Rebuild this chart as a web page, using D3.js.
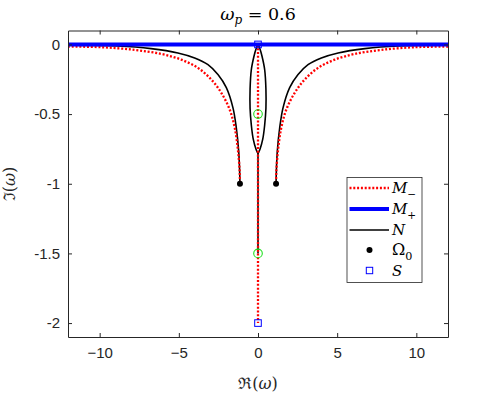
<!DOCTYPE html>
<html><head><meta charset="utf-8">
<script src="https://cdn.jsdelivr.net/npm/d3@7"></script>
<style>body{margin:0;background:#fff}</style>
</head><body>
<svg id="chart" width="495" height="395"></svg>
<script>
// ---- data ----
const xTicks = [-10, -5, 0, 5, 10];
const yTicks = [0, -0.5, -1, -1.5, -2];
const yTickLabels = ["0", "-0.5", "-1", "-1.5", "-2"];

// M_- (red dotted): left and right side branches + central vertical segment
const mMinusLeftX  = [-12, -9.9, -7.8, -6.12, -4.85, -3.8, -2.95, -2.32, -1.79, -1.47, -1.26, -1.16, -1.14];
const mMinusLeftY  = [-0.015, -0.02, -0.039, -0.068, -0.109, -0.168, -0.252, -0.347, -0.467, -0.598, -0.765, -0.908, -1.0];
const mMinusRightX = [12, 9.9, 7.8, 6.12, 4.85, 3.8, 2.95, 2.32, 1.79, 1.47, 1.26, 1.16, 1.14];
const mMinusRightY = [-0.015, -0.02, -0.039, -0.068, -0.109, -0.168, -0.252, -0.347, -0.467, -0.598, -0.765, -0.908, -1.0];
const mMinusCenterX = [0, 0];
const mMinusCenterY = [0, -2];

// M_+ (blue thick)
const mPlusX = [-12, 12];
const mPlusY = [0, 0];

// N (black): side branches, central loop, vertical segment
const nLeftX  = [-12, -8.86, -6.75, -5.06, -4.0, -3.16, -2.53, -2.0, -1.58, -1.37, -1.22, -1.16, -1.14];
const nLeftY  = [-0.006, -0.011, -0.03, -0.061, -0.097, -0.145, -0.216, -0.31, -0.455, -0.598, -0.765, -0.908, -1.0];
const nRightX = [12, 8.86, 6.75, 5.06, 4.0, 3.16, 2.53, 2.0, 1.58, 1.37, 1.22, 1.16, 1.14];
const nRightY = [-0.006, -0.011, -0.03, -0.061, -0.097, -0.145, -0.216, -0.31, -0.455, -0.598, -0.765, -0.908, -1.0];
const nLoopX = [0, 0.13, 0.25, 0.42, 0.5, 0.5, 0.42, 0.3, 0.13, 0, -0.13, -0.3, -0.42, -0.5, -0.5, -0.42, -0.25, -0.13, 0];
const nLoopY = [0, -0.035, -0.083, -0.18, -0.32, -0.46, -0.58, -0.68, -0.75, -0.78, -0.75, -0.68, -0.58, -0.46, -0.32, -0.18, -0.083, -0.035, 0];
const nStemX = [0, 0];
const nStemY = [-0.78, -1.5];

// markers
const omega0X = [-1.14, 1.14];
const omega0Y = [-1, -1];
const sX = [0, 0];
const sY = [0, -2];
const greenX = [0, 0];
const greenY = [-0.5, -1.5];

// ---- layout ----
const svg = d3.select("#chart");
const L = 68, R = 448, T = 30.5, B = 337;
const x = d3.scaleLinear().domain([-12, 12]).range([L, R]);
const y = d3.scaleLinear().domain([-2.1, 0.1]).range([B, T]);
const axisColor = "#262626";
const tickFont = "'Liberation Sans', Arial, sans-serif";
const mathFont = "'DejaVu Serif', 'Liberation Serif', serif";

svg.append("rect").attr("width", 495).attr("height", 395).attr("fill", "#fff");

svg.append("defs").append("clipPath").attr("id", "clip")
  .append("rect").attr("x", L).attr("y", T).attr("width", R - L).attr("height", B - T);

const plot = svg.append("g").attr("clip-path", "url(#clip)");
const pts = (xs, ys) => xs.map((v, i) => [v, ys[i]]);
const line = d3.line().x(d => x(d[0])).y(d => y(d[1])).curve(d3.curveCatmullRom.alpha(0.5));
const lineStraight = d3.line().x(d => x(d[0])).y(d => y(d[1]));

// N (black)
[[nLeftX, nLeftY], [nRightX, nRightY], [nLoopX, nLoopY]].forEach(([xs, ys]) => {
  plot.append("path").attr("d", line(pts(xs, ys))).attr("fill", "none")
    .attr("stroke", "#000").attr("stroke-width", 1.6);
});
plot.append("path").attr("d", lineStraight(pts(nStemX, nStemY))).attr("fill", "none")
  .attr("stroke", "#000").attr("stroke-width", 1.6);

// M_- (red dotted)
[[mMinusLeftX, mMinusLeftY], [mMinusRightX, mMinusRightY]].forEach(([xs, ys]) => {
  plot.append("path").attr("d", line(pts(xs, ys))).attr("fill", "none")
    .attr("stroke", "#ff0000").attr("stroke-width", 2.3).attr("stroke-dasharray", "2,1.8");
});
plot.append("path").attr("d", lineStraight(pts(mMinusCenterX, mMinusCenterY))).attr("fill", "none")
  .attr("stroke", "#ff0000").attr("stroke-width", 2.3).attr("stroke-dasharray", "2,1.8");

// M_+ (blue thick)
plot.append("path").attr("d", lineStraight(pts(mPlusX, mPlusY))).attr("fill", "none")
  .attr("stroke", "#0000ff").attr("stroke-width", 4);

// markers
svg.selectAll(".om").data(pts(omega0X, omega0Y)).join("circle")
  .attr("cx", d => x(d[0])).attr("cy", d => y(d[1])).attr("r", 3).attr("fill", "#000");
svg.selectAll(".gr").data(pts(greenX, greenY)).join("circle")
  .attr("cx", d => x(d[0])).attr("cy", d => y(d[1])).attr("r", 4.3)
  .attr("fill", "none").attr("stroke", "#1ee01e").attr("stroke-width", 1.1);
svg.selectAll(".sq").data(pts(sX, sY)).join("rect")
  .attr("x", d => x(d[0]) - 3.3).attr("y", d => y(d[1]) - 3.3).attr("width", 6.6).attr("height", 6.6)
  .attr("fill", "none").attr("stroke", "#0000ff").attr("stroke-width", 1);

// ---- axes ----
const gx = svg.append("g").attr("transform", `translate(0,${B})`)
  .call(d3.axisBottom(x).tickValues(xTicks).tickSizeInner(-4).tickSizeOuter(0).tickPadding(10));
const gy = svg.append("g").attr("transform", `translate(${L},0)`)
  .call(d3.axisLeft(y).tickValues(yTicks).tickFormat((d, i) => yTickLabels[i]).tickSizeInner(-4).tickSizeOuter(0).tickPadding(8));
const gxt = svg.append("g").attr("transform", `translate(0,${T})`)
  .call(d3.axisTop(x).tickValues(xTicks).tickSizeInner(-4).tickSizeOuter(0).tickFormat(""));
const gyr = svg.append("g").attr("transform", `translate(${R},0)`)
  .call(d3.axisRight(y).tickValues(yTicks).tickSizeInner(-4).tickSizeOuter(0).tickFormat(""));
[gx, gy, gxt, gyr].forEach(g => {
  g.selectAll("path,line").attr("stroke", axisColor).attr("stroke-width", 1);
  g.selectAll("text").attr("fill", axisColor).attr("font-family", tickFont).attr("font-size", 15);
});

// ---- legend ----
const lg = svg.append("g");
lg.append("rect").attr("x", 347).attr("y", 177.5).attr("width", 75).attr("height", 105)
  .attr("fill", "#fff").attr("stroke", axisColor).attr("stroke-width", 0.8);
const rows = [188, 209, 230, 250, 270.5];
lg.append("line").attr("x1", 349.5).attr("x2", 389).attr("y1", rows[0]).attr("y2", rows[0])
  .attr("stroke", "#ff0000").attr("stroke-width", 2.3).attr("stroke-dasharray", "2,1.8");
lg.append("line").attr("x1", 349.5).attr("x2", 389).attr("y1", rows[1]).attr("y2", rows[1])
  .attr("stroke", "#0000ff").attr("stroke-width", 4);
lg.append("line").attr("x1", 349.5).attr("x2", 389).attr("y1", rows[2]).attr("y2", rows[2])
  .attr("stroke", "#000").attr("stroke-width", 1.3);
lg.append("circle").attr("cx", 369.5).attr("cy", rows[3]).attr("r", 3).attr("fill", "#000");
lg.append("rect").attr("x", 366.3).attr("y", rows[4] - 3.2).attr("width", 6.4).attr("height", 6.4)
  .attr("fill", "none").attr("stroke", "#0000ff").attr("stroke-width", 1);

function mathLabel(g, xx, yy, main, sub, italicMain, size) {
  const t = g.append("text").attr("x", xx).attr("y", yy).attr("font-family", mathFont)
    .attr("font-size", size).attr("fill", "#000");
  t.append("tspan").text(main).attr("font-style", italicMain ? "italic" : "normal");
  if (sub) t.append("tspan").text(sub).attr("font-size", size * 0.7).attr("dy", size * 0.3)
    .attr("font-style", sub === "0" ? "normal" : "italic");
  return t;
}
mathLabel(lg, 392, rows[0] + 5, "M", "\u2212", true, 15);
mathLabel(lg, 392, rows[1] + 5, "M", "+", true, 15);
mathLabel(lg, 392, rows[2] + 5, "N", null, true, 15);
mathLabel(lg, 392, rows[3] + 5, "\u03A9", "0", false, 16);
mathLabel(lg, 392, rows[4] + 5, "S", null, true, 15);

// ---- title & axis labels ----
const title = svg.append("text").attr("x", 258).attr("y", 20).attr("text-anchor", "middle")
  .attr("font-family", mathFont).attr("font-size", 17.5).attr("fill", "#000");
title.append("tspan").text("\u03C9").attr("font-style", "italic");
title.append("tspan").text("p").attr("font-style", "italic").attr("font-size", 12).attr("dy", 4);
title.append("tspan").text(" = 0.6").attr("dy", -4);

svg.append("text").attr("x", 258).attr("y", 389).attr("text-anchor", "middle")
  .attr("font-family", mathFont).attr("font-size", 16).attr("fill", axisColor)
  .html('\u211C(<tspan font-style="italic">\u03C9</tspan>)');
svg.append("text").attr("transform", "translate(15,184) rotate(-90)").attr("text-anchor", "middle")
  .attr("font-family", mathFont).attr("font-size", 16).attr("fill", axisColor)
  .html('\u2111(<tspan font-style="italic">\u03C9</tspan>)');
</script>
</body></html>
